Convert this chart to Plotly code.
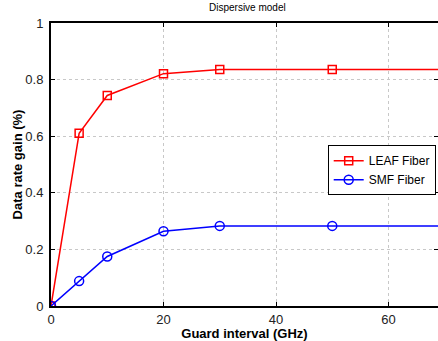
import plotly.graph_objects as go

guard_ghz = [0, 5, 10, 20, 30, 50, 70]
leaf_gain = [0.0, 0.610, 0.744, 0.821, 0.836, 0.836, 0.836]
smf_gain = [0.0, 0.088, 0.175, 0.264, 0.283, 0.283, 0.283]
x_ticks = [0, 20, 40, 60]
y_ticks = [0, 0.2, 0.4, 0.6, 0.8, 1]

FONT = "Liberation Sans, Arial, Helvetica, sans-serif"

fig = go.Figure()
fig.add_trace(go.Scatter(
    x=guard_ghz, y=leaf_gain, name="LEAF Fiber", mode="lines+markers",
    line=dict(color="#ff0000", width=1.5),
    marker=dict(symbol="square-open", size=8, color="#ff0000", line=dict(width=1.5)),
))
fig.add_trace(go.Scatter(
    x=guard_ghz, y=smf_gain, name="SMF Fiber", mode="lines+markers",
    line=dict(color="#0000ff", width=1.5),
    marker=dict(symbol="circle-open", size=9, color="#0000ff", line=dict(width=1.5)),
))

axis_common = dict(
    showline=True, linecolor="black", linewidth=2, mirror="ticks",
    ticks="inside", ticklen=4, tickcolor="black", tickwidth=1,
    showgrid=True, gridcolor="#c8c8c8", griddash="dot", gridwidth=1,
    zeroline=False, automargin=False,
    tickfont=dict(family=FONT, size=13, color="#222"),
)

fig.update_layout(
    width=438, height=341,
    margin=dict(l=51, r=0, t=23, b=35, autoexpand=False),
    paper_bgcolor="white", plot_bgcolor="white",
    font=dict(family=FONT),
    showlegend=True,
    legend=dict(
        x=0.715, y=0.568, xanchor="left", yanchor="top",
        bgcolor="white", bordercolor="black", borderwidth=1,
        font=dict(family=FONT, size=12, color="black"),
        itemwidth=30, tracegroupgap=0,
    ),
    xaxis=dict(
        range=[0, 68.8], tickvals=x_ticks, ticklabelstandoff=0,
        title=dict(text="<b>Guard interval (GHz)</b>", font=dict(family=FONT, size=13, color="black"), standoff=0),
        **axis_common,
    ),
    yaxis=dict(
        range=[0, 1], tickvals=y_ticks, ticklabelstandoff=3,
        title=dict(text="<b>Data rate gain (%)</b>", font=dict(family=FONT, size=13, color="black"), standoff=0),
        **axis_common,
    ),
    annotations=[dict(
        text="Dispersive model", x=35, y=1, xref="x", yref="paper",
        yanchor="bottom", yshift=8, showarrow=False,
        font=dict(family=FONT, size=10, color="black"),
    )],
)

fig.write_html(
    "out.html",
    config={"displayModeBar": False},
    post_script="document.body.style.margin='0';document.body.style.overflow='hidden';",
)
